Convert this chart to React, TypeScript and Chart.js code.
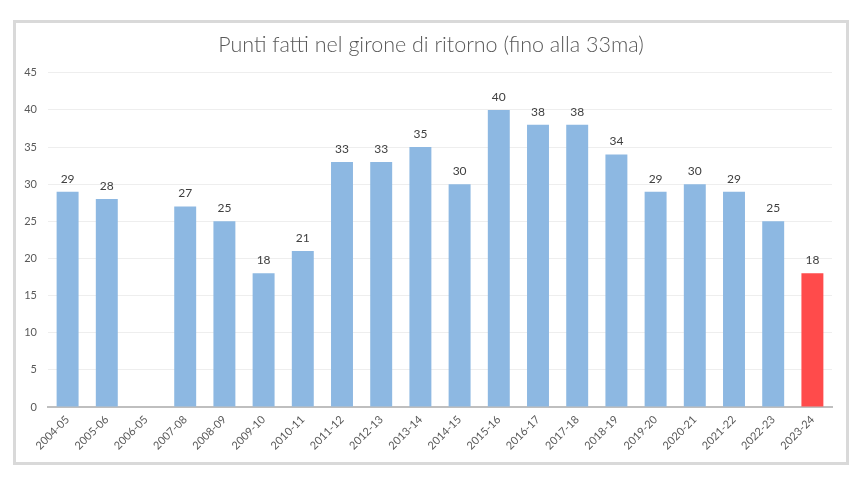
import React, { useEffect, useRef } from "react";
import { Chart, registerables } from "chart.js";

Chart.register(...registerables);

const categories = [
  "2004-05", "2005-06", "2006-05", "2007-08", "2008-09", "2009-10", "2010-11",
  "2011-12", "2012-13", "2013-14", "2014-15", "2015-16", "2016-17", "2017-18",
  "2018-19", "2019-20", "2020-21", "2021-22", "2022-23", "2023-24",
];
const points: (number | null)[] = [
  29, 28, null, 27, 25, 18, 21, 33, 33, 35, 30, 40, 38, 38, 34, 29, 30, 29, 25, 18,
];
const yTicks = { min: 0, max: 45, step: 5 };
const titleText = "Punti fatti nel girone di ritorno (fino alla 33ma)";

const BLUE = "#8DB8E2";
const RED = "#FF4B4B";

const labelPlugin = {
  id: "barLabels",
  afterDatasetsDraw(chart: any) {
    const ctx = chart.ctx;
    const meta = chart.getDatasetMeta(0);
    ctx.save();
    ctx.fillStyle = "#404040";
    ctx.font = "12px Lato, 'Open Sans', sans-serif";
    ctx.textAlign = "center";
    ctx.textBaseline = "middle";
    meta.data.forEach((bar: any, i: number) => {
      const v = points[i];
      if (v === null || v === undefined) return;
      ctx.fillText(String(v), bar.x, bar.y - 13);
    });
    ctx.restore();
  },
};

export default function App() {
  const ref = useRef<HTMLCanvasElement | null>(null);
  useEffect(() => {
    if (!ref.current) return;
    const colors = points.map((_, i) => (i === points.length - 1 ? RED : BLUE));
    const chart = new Chart(ref.current, {
      type: "bar",
      data: {
        labels: categories,
        datasets: [
          {
            data: points,
            backgroundColor: colors,
            borderWidth: 0,
            barPercentage: 0.56,
            categoryPercentage: 1,
          },
        ],
      },
      plugins: [labelPlugin],
      options: {
        animation: false,
        responsive: true,
        maintainAspectRatio: false,
        layout: { padding: 0 },
        plugins: {
          legend: { display: false },
          tooltip: { enabled: false },
          title: {
            display: true,
            text: titleText,
            color: "#595959",
            font: { family: "Lato, 'Open Sans', sans-serif", size: 21.5, weight: "300" as any, lineHeight: 1.2 },
            padding: { top: 9, bottom: 15 },
          },
        },
        scales: {
          x: {
            grid: { display: false, drawTicks: false },
            border: { display: true, color: "#BFBFBF", width: 2 },
            ticks: {
              color: "#595959",
              font: { family: "Lato, 'Open Sans', sans-serif", size: 11 },
              maxRotation: 45,
              minRotation: 45,
              autoSkip: false,
              padding: 6,
            },
            afterFit(scale: any) {
              scale.height = 55;
            },
          },
          y: {
            min: yTicks.min,
            max: yTicks.max,
            grid: { color: "#EEEEEE", drawTicks: false, lineWidth: 1 },
            border: { display: false },
            ticks: {
              stepSize: yTicks.step,
              color: "#595959",
              font: { family: "Lato, 'Open Sans', sans-serif", size: 11 },
              padding: 11,
            },
            afterFit(scale: any) {
              scale.width = 32;
            },
          },
          ySpacer: {
            position: "right",
            display: true,
            min: yTicks.min,
            max: yTicks.max,
            grid: { display: false, drawTicks: false },
            border: { display: false },
            ticks: { display: false },
            afterFit(scale: any) {
              scale.width = 14;
            },
          },
        },
      },
    });
    return () => chart.destroy();
  }, []);

  return (
    <div style={{ position: "fixed", left: 0, top: 0, width: 867, height: 482, background: "#fff" }}>
      <div
        style={{
          position: "absolute",
          left: 13,
          top: 20,
          width: 830,
          height: 439,
          border: "3px solid #D9D9D9",
          background: "#fff",
        }}
      >
        <canvas ref={ref} />
      </div>
    </div>
  );
}
